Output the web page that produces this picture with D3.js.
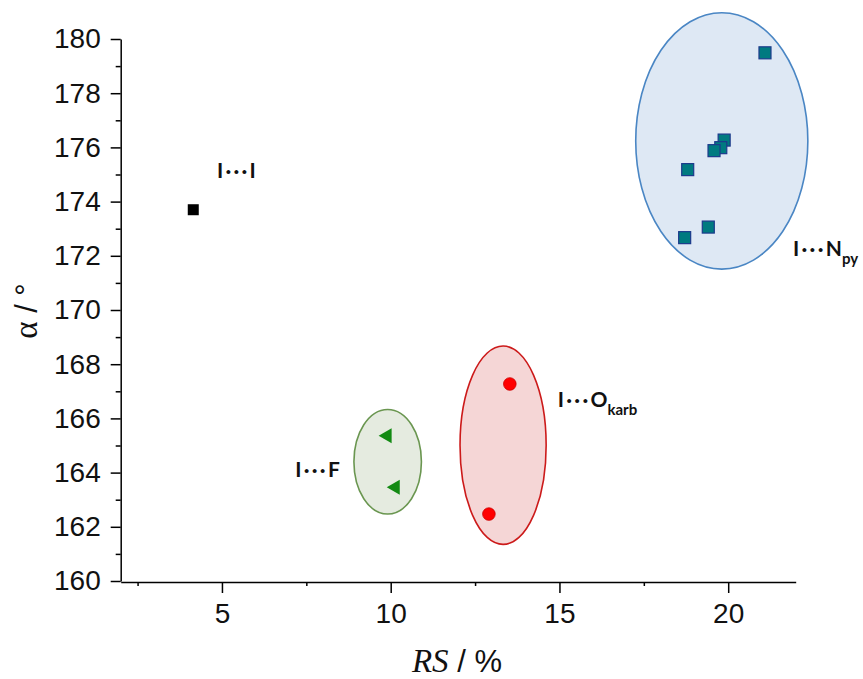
<!DOCTYPE html>
<html><head><meta charset="utf-8">
<script src="https://cdn.jsdelivr.net/npm/d3@7"></script>
<style>
html,body{margin:0;padding:0;background:#fff;}
svg{display:block;}
</style></head>
<body>
<svg id="chart" width="863" height="679"></svg>
<script>
// ---- data ----
const xTicks = [5, 10, 15, 20];
const xMinorTicks = [2.5, 7.5, 12.5, 17.5];
const yTicks = [160, 162, 164, 166, 168, 170, 172, 174, 176, 178, 180];
const yMinorTicks = [161, 163, 165, 167, 169, 171, 173, 175, 177, 179];

// I···I
const iiRS = [4.15];
const iiAlpha = [173.7];
// I···N_py
const npyRS = [21.09, 19.88, 19.78, 19.58, 18.80, 19.41, 18.71];
const npyAlpha = [179.49, 176.27, 175.99, 175.88, 175.18, 173.06, 172.67];
// I···O_karb
const okRS = [13.53, 12.91];
const okAlpha = [167.27, 162.47];
// I···F
const fRS = [9.85, 10.09];
const fAlpha = [165.36, 163.46];

// cluster ellipses (data units)
const ellCx = [19.81, 13.33, 9.91];
const ellCy = [176.24, 165.01, 164.40];
const ellRx = [2.55, 1.276, 1.0];
const ellRy = [4.73, 3.66, 1.93];
const ellFill = ["#dee8f4", "#f5d6d6", "#e5ebe0"];
const ellStroke = ["#4a86c4", "#cc1a1a", "#6a9650"];

// labels (anchor at start / baseline, in data units)
const labelMain = ["I···I", "I···N", "I···O", "I···F"];
const labelSub = ["", "py", "karb", ""];
const labelRS = [4.85, 21.92, 14.95, 7.17];
const labelAlpha = [174.87, 171.99, 166.43, 163.84];

// ---- drawing ----
const svg = d3.select("#chart");
const x = d3.scaleLinear().domain([2, 22]).range([120.7, 795.7]);
const y = d3.scaleLinear().domain([160, 180]).range([581, 39]);

// ellipses
const ell = svg.append("g");
ellCx.forEach((cx, i) => {
  ell.append("ellipse")
    .attr("cx", x(cx)).attr("cy", y(ellCy[i]))
    .attr("rx", x(cx + ellRx[i]) - x(cx))
    .attr("ry", y(ellCy[i]) - y(ellCy[i] + ellRy[i]))
    .attr("fill", ellFill[i]).attr("stroke", ellStroke[i]).attr("stroke-width", 1.6);
});

// axes
const axisFont = "'Liberation Sans', Arial, sans-serif";
const gx = svg.append("g").attr("transform", `translate(0,${y(160) + 1})`);
gx.call(d3.axisBottom(x).tickValues(xTicks).tickSize(11).tickPadding(10).tickSizeOuter(0).tickFormat(d3.format("d")));
const gxm = svg.append("g").attr("transform", `translate(0,${y(160) + 1})`);
gxm.call(d3.axisBottom(x).tickValues(xMinorTicks).tickSize(4).tickFormat("").tickSizeOuter(0));
gxm.select(".domain").remove();

const gy = svg.append("g").attr("transform", `translate(${x(2)},0)`);
gy.call(d3.axisLeft(y).tickValues(yTicks).tickSize(10).tickPadding(10).tickSizeOuter(0).tickFormat(d3.format("d")));
const gym = svg.append("g").attr("transform", `translate(${x(2)},0)`);
gym.call(d3.axisLeft(y).tickValues(yMinorTicks).tickSize(5).tickFormat("").tickSizeOuter(0));
gym.select(".domain").remove();

svg.selectAll(".domain, .tick line").attr("stroke", "#000").attr("stroke-width", 1.5);
svg.selectAll(".tick text").attr("font-family", axisFont).attr("font-size", 28).attr("fill", "#111");

// axis titles
const xt = svg.append("text").attr("x", 457).attr("y", 672).attr("text-anchor", "middle")
  .attr("font-size", 31).attr("fill", "#111");
xt.append("tspan").attr("font-family", "'Liberation Serif', 'Times New Roman', serif").attr("font-style", "italic").attr("font-size", 33).text("RS");
xt.append("tspan").attr("font-family", axisFont).text(" / %");

const yt = svg.append("text").attr("transform", "translate(37,311) rotate(-90)").attr("text-anchor", "middle")
  .attr("font-size", 31).attr("fill", "#111");
yt.append("tspan").attr("font-family", "'Liberation Serif', 'Times New Roman', serif").attr("font-size", 33).text("α");
yt.append("tspan").attr("font-family", axisFont).text(" / °");

// markers
const g = svg.append("g");
iiRS.forEach((v, i) => {
  g.append("rect").attr("x", x(v) - 5.5).attr("y", y(iiAlpha[i]) - 5.5).attr("width", 11).attr("height", 11).attr("fill", "#000");
});
npyRS.forEach((v, i) => {
  g.append("rect").attr("x", x(v) - 6).attr("y", y(npyAlpha[i]) - 6).attr("width", 12).attr("height", 12)
    .attr("fill", "#007a80").attr("stroke", "#1c3a8c").attr("stroke-width", 1.2);
});
okRS.forEach((v, i) => {
  g.append("circle").attr("cx", x(v)).attr("cy", y(okAlpha[i])).attr("r", 6.3)
    .attr("fill", "#ff0000").attr("stroke", "#cc0000").attr("stroke-width", 0.8);
});
fRS.forEach((v, i) => {
  const cx = x(v), cy = y(fAlpha[i]);
  g.append("path").attr("d", `M${cx - 7},${cy} L${cx + 6},${cy - 7.5} L${cx + 6},${cy + 7.5} Z`)
    .attr("fill", "#138a13");
});

// labels
const lab = svg.append("g").attr("font-family", "Lato, 'Open Sans', sans-serif").attr("font-weight", "bold").attr("fill", "#111");
labelMain.forEach((t, i) => {
  const tx = lab.append("text").attr("x", x(labelRS[i])).attr("y", y(labelAlpha[i])).attr("font-size", 21);
  tx.append("tspan").attr("letter-spacing", 2.3).text(t.slice(0, -1));
  tx.append("tspan").text(t.slice(-1));
  if (labelSub[i]) tx.append("tspan").attr("font-size", 15).attr("dy", 8).text(labelSub[i]);
});
</script>
</body></html>
